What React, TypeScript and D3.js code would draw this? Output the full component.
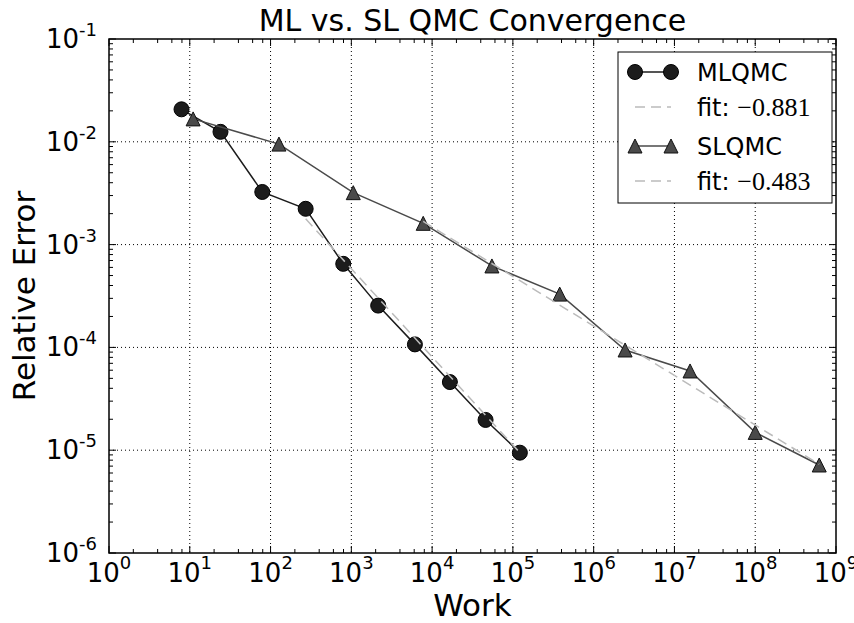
import React from "react";
import * as d3 from "d3";

const mlWork = [7.9, 24, 79, 272, 794, 2150, 6124, 16600, 45900, 122000];
const mlErr = [0.0207, 0.0125, 0.00325, 0.00223, 0.00065, 2.55e-4, 1.07e-4, 4.6e-5, 1.97e-5, 9.46e-6];
const slWork = [11, 127, 1057, 7760, 55000, 380000, 2.45e6, 1.56e7, 1.0e8, 6.2e8];
const slErr = [0.0167, 0.0095, 0.0032, 0.00161, 6.2e-4, 3.3e-4, 9.44e-5, 5.9e-5, 1.49e-5, 7.18e-6];
const mlFitWork = [272, 120000];
const mlFitErr = [1.78e-3, 9.6e-6];
const slFitWork = [7760, 6.2e8];
const slFitErr = [1.68e-3, 7.3e-6];
const xExps = [0, 1, 2, 3, 4, 5, 6, 7, 8, 9];
const yExps = [-6, -5, -4, -3, -2, -1];
const legendLabels = ["MLQMC", "fit: ", "SLQMC", "fit: "];
const fitSlopes = ["\u22120.881", "\u22120.483"];

const W = 854, H = 623;
const L = 109, R = 836, T = 39, B = 553;
const FONT = "'DejaVu Sans', sans-serif";

export default function App() {
  const x = d3.scaleLog().domain([1, 1e9]).range([L, R]);
  const y = d3.scaleLog().domain([1e-6, 1e-1]).range([B, T]);
  const line = d3.line<[number, number]>().x(d => x(d[0])).y(d => y(d[1]));
  const mlPts: [number, number][] = mlWork.map((w, i) => [w, mlErr[i]]);
  const slPts: [number, number][] = slWork.map((w, i) => [w, slErr[i]]);
  const mlFit: [number, number][] = mlFitWork.map((w, i) => [w, mlFitErr[i]]);
  const slFit: [number, number][] = slFitWork.map((w, i) => [w, slFitErr[i]]);

  const xMinor: number[] = [];
  xExps.slice(0, -1).forEach(e => [2, 4, 6, 8].forEach(s => xMinor.push(s * Math.pow(10, e))));
  const yMinor: number[] = [];
  yExps.slice(0, -1).forEach(e => [2, 3, 4, 5, 6, 7, 8, 9].forEach(s => yMinor.push(s * Math.pow(10, e))));

  const tri = (cx: number, cy: number, r = 7) => `M${cx},${cy - r}L${cx + r},${cy + r}L${cx - r},${cy + r}Z`;
  const mlColor = "#1c1c1c", slColor = "#4a4a4a", fitColor = "#bbbbbb";
  const MAJ = 7, MIN = 4;

  const legX0 = 635, legX1 = 671, legTextX = 697;
  const legY = [72, 107, 146, 181];

  return (
    <svg width={W} height={H} style={{ position: "absolute", left: 0, top: 0, background: "#fff" }} fontFamily={FONT}>
      <rect x={0} y={0} width={W} height={H} fill="#fff" />
      {/* grid */}
      {xExps.slice(1, -1).map(e => (
        <line key={"gx" + e} x1={x(Math.pow(10, e))} x2={x(Math.pow(10, e))} y1={T} y2={B} stroke="#000" strokeWidth={1} strokeDasharray="1,3" />
      ))}
      {yExps.slice(1, -1).map(e => (
        <line key={"gy" + e} y1={y(Math.pow(10, e))} y2={y(Math.pow(10, e))} x1={L} x2={R} stroke="#000" strokeWidth={1} strokeDasharray="1,3" />
      ))}
      {/* ticks */}
      {xExps.map(e => {
        const px = x(Math.pow(10, e));
        return (
          <g key={"xt" + e}>
            <line x1={px} x2={px} y1={B} y2={B - MAJ} stroke="#000" strokeWidth={1} />
            <line x1={px} x2={px} y1={T} y2={T + MAJ} stroke="#000" strokeWidth={1} />
          </g>
        );
      })}
      {xMinor.map((v, i) => {
        const px = x(v);
        return (
          <g key={"xm" + i}>
            <line x1={px} x2={px} y1={B} y2={B - MIN} stroke="#000" strokeWidth={1} />
            <line x1={px} x2={px} y1={T} y2={T + MIN} stroke="#000" strokeWidth={1} />
          </g>
        );
      })}
      {yExps.map(e => {
        const py = y(Math.pow(10, e));
        return (
          <g key={"yt" + e}>
            <line y1={py} y2={py} x1={L} x2={L + MAJ} stroke="#000" strokeWidth={1} />
            <line y1={py} y2={py} x1={R} x2={R - MAJ} stroke="#000" strokeWidth={1} />
          </g>
        );
      })}
      {yMinor.map((v, i) => {
        const py = y(v);
        return (
          <g key={"ym" + i}>
            <line y1={py} y2={py} x1={L} x2={L + MIN} stroke="#000" strokeWidth={1} />
            <line y1={py} y2={py} x1={R} x2={R - MIN} stroke="#000" strokeWidth={1} />
          </g>
        );
      })}
      {/* tick labels */}
      {xExps.map(e => (
        <text key={"xl" + e} x={x(Math.pow(10, e))} y={582} textAnchor="middle" fontSize={26} fill="#000">
          10<tspan dy={-13} fontSize={18}>{e}</tspan>
        </text>
      ))}
      {yExps.map(e => (
        <text key={"yl" + e} x={97} y={y(Math.pow(10, e)) + 9} textAnchor="end" fontSize={26} fill="#000">
          10<tspan dy={-12} fontSize={18}>{"-" + Math.abs(e)}</tspan>
        </text>
      ))}
      {/* data */}
      <path d={line(mlPts) || ""} fill="none" stroke={mlColor} strokeWidth={1.5} />
      {mlPts.map((p, i) => (
        <circle key={"mc" + i} cx={x(p[0])} cy={y(p[1])} r={7.5} fill={mlColor} stroke="#000" strokeWidth={1} />
      ))}
      <path d={line(mlFit) || ""} fill="none" stroke={fitColor} strokeWidth={1.5} strokeDasharray="10,6" />
      <path d={line(slPts) || ""} fill="none" stroke={slColor} strokeWidth={1.5} />
      {slPts.map((p, i) => (
        <path key={"st" + i} d={tri(x(p[0]), y(p[1]))} fill={slColor} stroke="#111" strokeWidth={1} />
      ))}
      <path d={line(slFit) || ""} fill="none" stroke={fitColor} strokeWidth={1.5} strokeDasharray="10,6" />
      {/* spines */}
      <rect x={L} y={T} width={R - L} height={B - T} fill="none" stroke="#000" strokeWidth={1.5} />
      {/* legend */}
      <rect x={618} y={52} width={214} height={151} fill="#fff" stroke="#000" strokeWidth={1} />
      <line x1={legX0} x2={legX1} y1={legY[0]} y2={legY[0]} stroke={mlColor} strokeWidth={1.5} />
      <circle cx={legX0} cy={legY[0]} r={7.5} fill={mlColor} stroke="#000" />
      <circle cx={legX1} cy={legY[0]} r={7.5} fill={mlColor} stroke="#000" />
      <line x1={legX0} x2={legX1} y1={legY[1]} y2={legY[1]} stroke={fitColor} strokeWidth={1.5} strokeDasharray="10,6" />
      <line x1={legX0} x2={legX1} y1={legY[2]} y2={legY[2]} stroke={slColor} strokeWidth={1.5} />
      <path d={tri(legX0, legY[2])} fill={slColor} stroke="#111" />
      <path d={tri(legX1, legY[2])} fill={slColor} stroke="#111" />
      <line x1={legX0} x2={legX1} y1={legY[3]} y2={legY[3]} stroke={fitColor} strokeWidth={1.5} strokeDasharray="10,6" />
      {legendLabels.map((lab, i) => (
        <text key={"lg" + i} x={legTextX} y={legY[i] + 9} fontSize={24} fill="#000">
          {lab}
          {i % 2 === 1 && (
            <tspan fontFamily="'Liberation Serif', serif" fontSize={26}>{fitSlopes[(i - 1) / 2]}</tspan>
          )}
        </text>
      ))}
      {/* titles */}
      <text x={(L + R) / 2} y={31} textAnchor="middle" fontSize={30} fill="#000">ML vs. SL QMC Convergence</text>
      <text x={(L + R) / 2} y={616} textAnchor="middle" fontSize={31} fill="#000">Work</text>
      <text transform={`translate(35,${(T + B) / 2}) rotate(-90)`} textAnchor="middle" fontSize={31} fill="#000">Relative Error</text>
    </svg>
  );
}
